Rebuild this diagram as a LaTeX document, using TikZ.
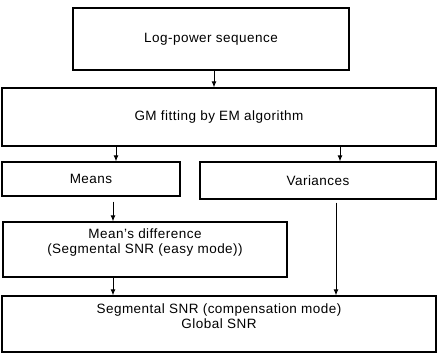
\documentclass[tikz,border=0pt]{standalone}
\usepackage{fontspec}
\setmainfont[LetterSpace=3.5]{Liberation Sans}
\usetikzlibrary{arrows.meta}
\begin{document}
\begin{tikzpicture}[x=1pt,y=1pt,
  blk/.style={draw,line width=1.3pt,inner sep=0pt,font=\fontsize{13.5}{15}\selectfont,align=center},
  lbl/.style={inner sep=0pt,font=\fontsize{13.5}{15}\selectfont,align=center},
  arr/.style={line width=0.9pt,-{Latex[length=6pt,width=5pt]}}]
\useasboundingbox (0,0) rectangle (437,354);
\node[blk,minimum width=276,minimum height=62] (b1) at (211,315) {Log-power sequence};
\node[blk,minimum width=434,minimum height=58] (b2) at (219,237) {GM fitting by EM algorithm};
\node[blk,minimum width=178,minimum height=34] (mn) at (91,175) {Means};
\node[blk,minimum width=236,minimum height=37] (vr) at (318,173.5) {Variances};
\node[blk,minimum width=284,minimum height=55] (md) at (145,104.5) {};
\node[lbl] (mdt) at (145,111) {Mean's difference\\(Segmental SNR (easy mode))};
\node[blk,minimum width=434,minimum height=56] (fn) at (219,30) {};
\node[lbl] (fnt) at (219,37.5) {Segmental SNR (compensation mode)\\Global SNR};
\coordinate (xa) at (214,0);
\coordinate (xb) at (116,0);
\coordinate (xc) at (340,0);
\coordinate (xd) at (113,0);
\coordinate (xe) at (336,0);
\draw[arr] (b1.south -| xa) -- (b2.north -| xa);
\draw[arr] (b2.south -| xb) -- (mn.north -| xb);
\draw[arr] (b2.south -| xc) -- (vr.north -| xc);
\draw[arr] ([yshift=-5pt]mn.south -| xd) -- (md.north -| xd);
\draw[arr] (md.south -| xd) -- (fn.north -| xd);
\draw[arr] ([yshift=-3pt]vr.south -| xe) -- (fn.north -| xe);
\end{tikzpicture}
\end{document}
